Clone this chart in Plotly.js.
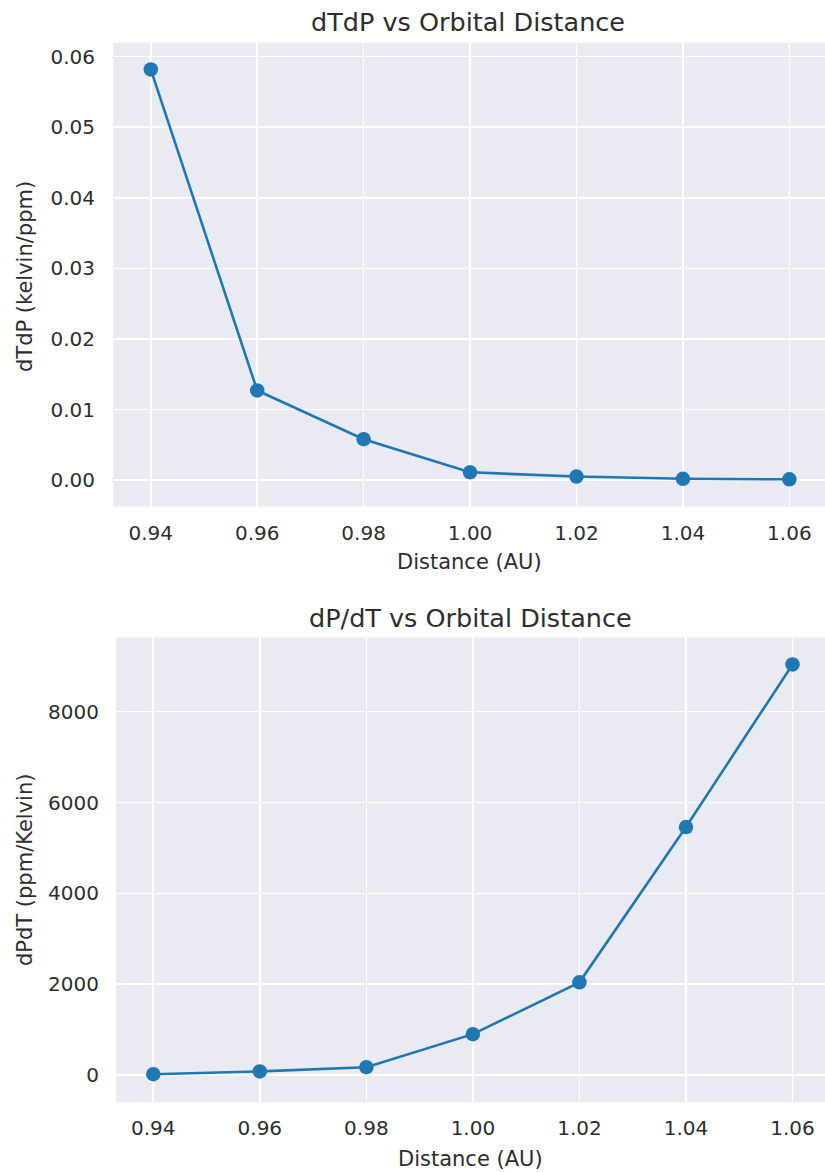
<!DOCTYPE html>
<html>
<head>
<meta charset="utf-8">
<script src="https://cdn.plot.ly/plotly-3.0.1.min.js"></script>
<style>html,body{margin:0;padding:0;background:#fff;}#chart{width:825px;height:1172px;}</style>
</head>
<body>
<div id="chart"></div>
<script>
const distance = [0.94, 0.96, 0.98, 1.00, 1.02, 1.04, 1.06];
const dTdP = [0.0582, 0.0127, 0.0058, 0.0011, 0.0005, 0.00018, 0.00011];
const dPdT = [17, 79, 172, 900, 2040, 5460, 9040];
const xTicks = [0.94, 0.96, 0.98, 1.00, 1.02, 1.04, 1.06];
const xTickText = ["0.94", "0.96", "0.98", "1.00", "1.02", "1.04", "1.06"];
const y1Ticks = [0, 0.01, 0.02, 0.03, 0.04, 0.05, 0.06];
const y1TickText = ["0.00", "0.01", "0.02", "0.03", "0.04", "0.05", "0.06"];
const y2Ticks = [0, 2000, 4000, 6000, 8000];
const y2TickText = ["0", "2000", "4000", "6000", "8000"];

const W = 825, H = 1172;
const px = x => x / W;
const py = y => 1 - y / H;

const color = '#1f77b4';
const textColor = '#2e2e2e';
const font = 'DejaVu Sans, sans-serif';

const traceStyle = {
  mode: 'lines+markers',
  line: {color: color, width: 2.6},
  marker: {color: color, size: 14.5},
  hoverinfo: 'x+y',
  showlegend: false
};

const data = [
  Object.assign({x: distance, y: dTdP, xaxis: 'x', yaxis: 'y'}, traceStyle),
  Object.assign({x: distance, y: dPdT, xaxis: 'x2', yaxis: 'y2'}, traceStyle)
];

const axisCommon = {
  showgrid: true,
  gridcolor: '#ffffff',
  gridwidth: 1.6,
  zeroline: false,
  showline: false,
  ticks: '',
  tickfont: {family: font, size: 20, color: textColor},
  fixedrange: true
};

const layout = {
  width: W, height: H,
  margin: {l: 0, r: 0, t: 0, b: 0, pad: 0},
  paper_bgcolor: '#ffffff',
  plot_bgcolor: '#EAEAF2',
  showlegend: false,
  xaxis: Object.assign({}, axisCommon, {
    domain: [px(113), 1], anchor: 'y',
    range: [0.9329, 1.0667],
    tickvals: xTicks, ticktext: xTickText,
    ticklabelstandoff: 12
  }),
  yaxis: Object.assign({}, axisCommon, {
    domain: [py(506.7), py(42.7)], anchor: 'x',
    range: [-0.00377, 0.06198],
    tickvals: y1Ticks, ticktext: y1TickText,
    ticklabelstandoff: 17
  }),
  xaxis2: Object.assign({}, axisCommon, {
    domain: [px(116), 1], anchor: 'y2',
    range: [0.9330, 1.0661],
    tickvals: xTicks, ticktext: xTickText,
    ticklabelstandoff: 12
  }),
  yaxis2: Object.assign({}, axisCommon, {
    domain: [py(1102.3), py(637.3)], anchor: 'x2',
    range: [-601, 9638],
    tickvals: y2Ticks, ticktext: y2TickText,
    ticklabelstandoff: 16
  }),
  annotations: [
    {text: 'dTdP vs Orbital Distance', x: px(468), y: py(22), xref: 'paper', yref: 'paper',
     showarrow: false, xanchor: 'center', yanchor: 'middle', font: {family: font, size: 25.5, color: textColor}},
    {text: 'Distance (AU)', x: px(469), y: py(562), xref: 'paper', yref: 'paper',
     showarrow: false, xanchor: 'center', yanchor: 'middle', font: {family: font, size: 21, color: textColor}},
    {text: 'dTdP (kelvin/ppm)', x: px(25), y: py(277), xref: 'paper', yref: 'paper', textangle: -90,
     showarrow: false, xanchor: 'center', yanchor: 'middle', font: {family: font, size: 21, color: textColor}},
    {text: 'dP/dT vs Orbital Distance', x: px(470), y: py(618), xref: 'paper', yref: 'paper',
     showarrow: false, xanchor: 'center', yanchor: 'middle', font: {family: font, size: 25.5, color: textColor}},
    {text: 'Distance (AU)', x: px(470), y: py(1159), xref: 'paper', yref: 'paper',
     showarrow: false, xanchor: 'center', yanchor: 'middle', font: {family: font, size: 21, color: textColor}},
    {text: 'dPdT (ppm/Kelvin)', x: px(25), y: py(870), xref: 'paper', yref: 'paper', textangle: -90,
     showarrow: false, xanchor: 'center', yanchor: 'middle', font: {family: font, size: 21, color: textColor}}
  ]
};

Plotly.newPlot('chart', data, layout, {staticPlot: true, displayModeBar: false});
</script>
</body>
</html>
